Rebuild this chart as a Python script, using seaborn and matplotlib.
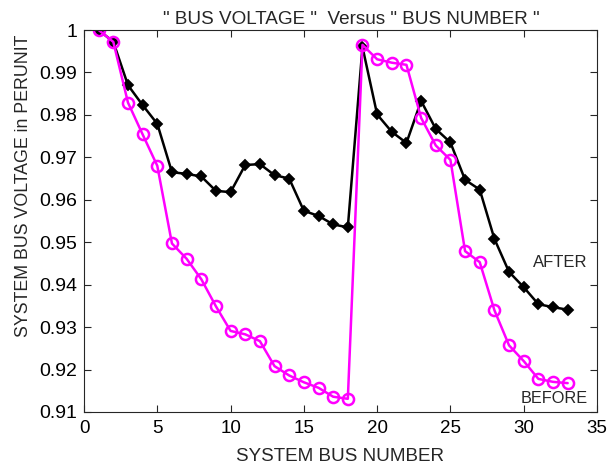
import matplotlib
matplotlib.use("Agg")
import matplotlib.pyplot as plt
import seaborn as sns
import pandas as pd

bus = list(range(1, 34))
before = [1.0, 0.9972, 0.9829, 0.9754, 0.9680, 0.9497, 0.9461, 0.9413, 0.9349, 0.9291,
          0.9283, 0.9267, 0.9208, 0.9186, 0.9170, 0.9157, 0.9136, 0.9131, 0.9965, 0.9931,
          0.9923, 0.9918, 0.9793, 0.9728, 0.9694, 0.9479, 0.9453, 0.9340, 0.9257, 0.9220,
          0.9178, 0.9171, 0.9168]
after = [1.0, 0.9972, 0.9870, 0.9823, 0.9779, 0.9665, 0.9661, 0.9655, 0.9621, 0.9618,
         0.9682, 0.9684, 0.9658, 0.9650, 0.9574, 0.9562, 0.9542, 0.9535, 0.9960, 0.9801,
         0.9760, 0.9734, 0.9833, 0.9767, 0.9735, 0.9647, 0.9624, 0.9508, 0.9430, 0.9394,
         0.9354, 0.9347, 0.9341]
xticks = [0, 5, 10, 15, 20, 25, 30, 35]
yticks = [0.91, 0.92, 0.93, 0.94, 0.95, 0.96, 0.97, 0.98, 0.99, 1.0]
ytick_labels = ["0.91", "0.92", "0.93", "0.94", "0.95", "0.96", "0.97", "0.98", "0.99", "1"]

sns.set_style("ticks")
plt.rcParams['font.family'] = ['Liberation Sans', 'DejaVu Sans']

df = pd.DataFrame({"bus": bus, "before": before, "after": after})

fig = plt.figure(figsize=(6.07, 4.66), dpi=100)
ax = fig.add_axes([0.1384, 0.1159, 0.8451, 0.8197])

sns.lineplot(data=df, x="bus", y="after", ax=ax, color="black", linewidth=1.8,
             marker="D", markersize=4.8, markeredgecolor="black", markeredgewidth=1.3)
sns.lineplot(data=df, x="bus", y="before", ax=ax, color="#ff00ff", linewidth=1.8,
             marker="o", markersize=8, markerfacecolor="none",
             markeredgecolor="#ff00ff", markeredgewidth=1.8)

ax.set_xlim(0, 35)
ax.set_ylim(0.91, 1.0)
ax.set_xticks(xticks)
ax.set_xticklabels([str(t) for t in xticks])
ax.set_yticks(yticks)
ax.set_yticklabels(ytick_labels)
ax.tick_params(direction="in", top=True, right=True, length=5, width=0.8,
               colors="#262626", labelcolor="black")
ax.tick_params(axis="y", pad=5, labelsize=14)
ax.tick_params(axis="x", pad=6, labelsize=13.5)
for s in ax.spines.values():
    s.set_color("#262626")
    s.set_linewidth(0.8)

ax.set_xlabel("SYSTEM BUS NUMBER", fontsize=13.6, labelpad=8)
ax.set_ylabel("SYSTEM BUS VOLTAGE in PERUNIT", fontsize=12.8)
ax.yaxis.set_label_coords(-0.101, 0.592)
ax.set_title('" BUS VOLTAGE "  Versus " BUS NUMBER "', fontsize=13.6, pad=4.5, x=0.522)

ax.text(32.5, 0.9452, "AFTER", fontsize=12, ha="center", va="center")
ax.text(32.06, 0.9132, "BEFORE", fontsize=11.7, ha="center", va="center")

fig.savefig("out.png", dpi=100)
